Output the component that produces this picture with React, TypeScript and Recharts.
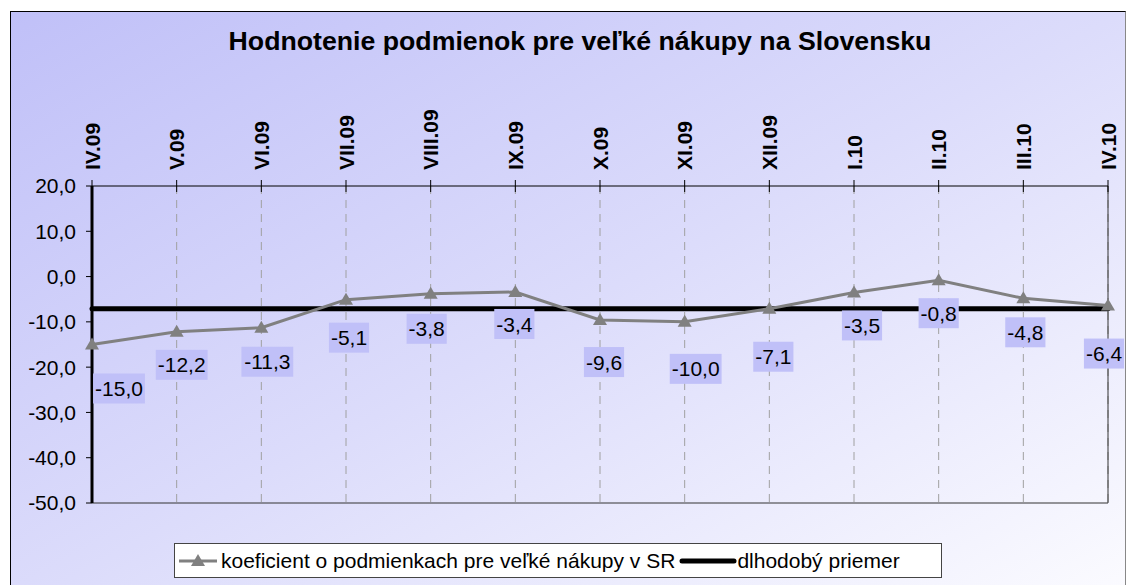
import { CartesianGrid, LabelList, Line, LineChart, ReferenceLine, XAxis, YAxis } from 'recharts';

const months = ['IV.09', 'V.09', 'VI.09', 'VII.09', 'VIII.09', 'IX.09', 'X.09', 'XI.09', 'XII.09', 'I.10', 'II.10', 'III.10', 'IV.10'];
const koeficient = [-15.0, -12.2, -11.3, -5.1, -3.8, -3.4, -9.6, -10.0, -7.1, -3.5, -0.8, -4.8, -6.4];
const priemer = [-7.1, -7.1, -7.1, -7.1, -7.1, -7.1, -7.1, -7.1, -7.1, -7.1, -7.1, -7.1, -7.1];
const yTicks = [20, 10, 0, -10, -20, -30, -40, -50];

const TITLE = 'Hodnotenie podmienok pre veľké nákupy na Slovensku';
const SERIES_NAME = 'koeficient o podmienkach pre veľké nákupy v SR';
const AVG_NAME = 'dlhodobý priemer';

// label box placement relative to its point (Excel labels were nudged by hand)
const LABEL_OFFSETS: [number, number][] = [
  [27, 44], [5, 33], [6, 34], [3, 38], [-4, 35], [-1, 32], [4, 42],
  [11, 47], [4, 48], [8, 33], [0, 33], [2, 34], [-4, 48],
];

const data = months.map((m, i) => ({ month: m, koef: koeficient[i], avg: priemer[i] }));

const FONT = '"Liberation Sans", Arial, sans-serif';
const GREY = '#808080';
const LABEL_BG = '#c0c0f8';

const fmt = (v: number) => v.toFixed(1).replace('.', ',');

const charW: Record<string, number> = { '-': 0.333, ',': 0.278 };
const textWidth = (s: string, size: number) =>
  s.split('').reduce((a, c) => a + (charW[c] ?? 0.556), 0) * size;

function MonthTick({ x, y, payload }: any) {
  return (
    <g>
      <line x1={x} x2={x} y1={y - 6} y2={y + 6} stroke="#000" />
      <text
        transform={`translate(${x},${y - 16}) rotate(-90)`}
        dy="0.36em"
        textAnchor="start"
        fontWeight="bold"
        fontSize={21}
        fill="#000"
      >
        {payload.value}
      </text>
    </g>
  );
}

function Triangle({ cx, cy }: { cx: number; cy: number }) {
  return <polygon points={`${cx},${cy - 7} ${cx - 7},${cy + 5} ${cx + 7},${cy + 5}`} fill={GREY} />;
}

function ValueLabel(props: any) {
  const { x, y, value, index } = props;
  const [dx, dy] = LABEL_OFFSETS[index] ?? [3, 36];
  const txt = fmt(value);
  const w = textWidth(txt, 21) + 4;
  const h = 30;
  const cx = x + dx;
  const cy = y + dy;
  return (
    <g>
      <rect x={cx - w / 2} y={cy - h / 2} width={w} height={h} fill={LABEL_BG} />
      <text x={cx} y={cy} dy="0.36em" textAnchor="middle" fontSize={21} fill="#000">
        {txt}
      </text>
    </g>
  );
}

export default function App() {
  return (
    <div style={{ position: 'absolute', left: 0, top: 0, width: 1126, height: 585, overflow: 'hidden', fontFamily: FONT }}>
      <div
        style={{
          position: 'absolute',
          left: 10,
          top: 11,
          width: 1116,
          height: 600,
          boxSizing: 'border-box',
          borderLeft: '1px solid #000',
          borderTop: '1px solid #000',
          borderRight: '1px solid #888',
          background: 'linear-gradient(to bottom right, #c0c0f8 0%, #dcdcfb 50%, #fcfcff 100%)',
        }}
      />
      <div
        style={{
          position: 'absolute',
          left: 0,
          top: 28,
          width: 1160,
          textAlign: 'center',
          fontSize: 26.7,
          lineHeight: '26px',
          fontWeight: 'bold',
          color: '#000',
        }}
      >
        {TITLE}
      </div>
      <div style={{ position: 'absolute', left: 0, top: 0 }}>
        <LineChart
          width={1126}
          height={585}
          data={data}
          margin={{ top: 126, right: 18, bottom: 82, left: 0 }}
          style={{ fontFamily: FONT }}
        >
          <CartesianGrid horizontal={false} stroke="#a0a0a0" strokeDasharray="8 6" />
          <XAxis
            dataKey="month"
            orientation="top"
            scale="point"
            padding={{ left: 0, right: 0 }}
            height={60}
            interval={0}
            tickSize={0}
            tickMargin={0}
            tickLine={false}
            axisLine={{ stroke: '#000' }}
            tick={<MonthTick />}
          />
          <YAxis
            domain={[-50, 20]}
            ticks={yTicks}
            width={92}
            interval={0}
            tickFormatter={fmt}
            tickSize={6}
            tickMargin={10}
            tick={{ fontSize: 21, fill: '#000' }}
            tickLine={{ stroke: '#000' }}
            axisLine={{ stroke: '#000', strokeWidth: 3 }}
          />
          <ReferenceLine y={-50} stroke="#333" />
          <ReferenceLine x="IV.10" stroke="#333" />
          <Line
            dataKey="avg"
            stroke="#000"
            strokeWidth={5}
            strokeLinecap="round"
            dot={false}
            activeDot={false}
            isAnimationActive={false}
          />
          <Line
            dataKey="koef"
            stroke={GREY}
            strokeWidth={3}
            dot={(p: any) => <Triangle key={`d${p.index}`} cx={p.cx} cy={p.cy} />}
            activeDot={false}
            isAnimationActive={false}
          >
            <LabelList dataKey="koef" content={<ValueLabel />} />
          </Line>
        </LineChart>
      </div>
      <div
        style={{
          position: 'absolute',
          left: 174,
          top: 543,
          width: 768,
          height: 35,
          boxSizing: 'border-box',
          border: '1px solid #444',
          background: '#fff',
          display: 'flex',
          alignItems: 'center',
          fontSize: 21,
          color: '#000',
          whiteSpace: 'nowrap',
        }}
      >
        <svg width={44} height={20} style={{ flex: 'none', marginLeft: 2 }}>
          <line x1={2} x2={40} y1={10} y2={10} stroke={GREY} strokeWidth={3} />
          <polygon points="21,3 14,15 28,15" fill={GREY} />
        </svg>
        <span>{SERIES_NAME}</span>
        <svg width={58} height={20} style={{ flex: 'none', marginLeft: 4 }}>
          <line x1={3} x2={55} y1={10} y2={10} stroke="#000" strokeWidth={5} strokeLinecap="round" />
        </svg>
        <span>{AVG_NAME}</span>
      </div>
    </div>
  );
}
